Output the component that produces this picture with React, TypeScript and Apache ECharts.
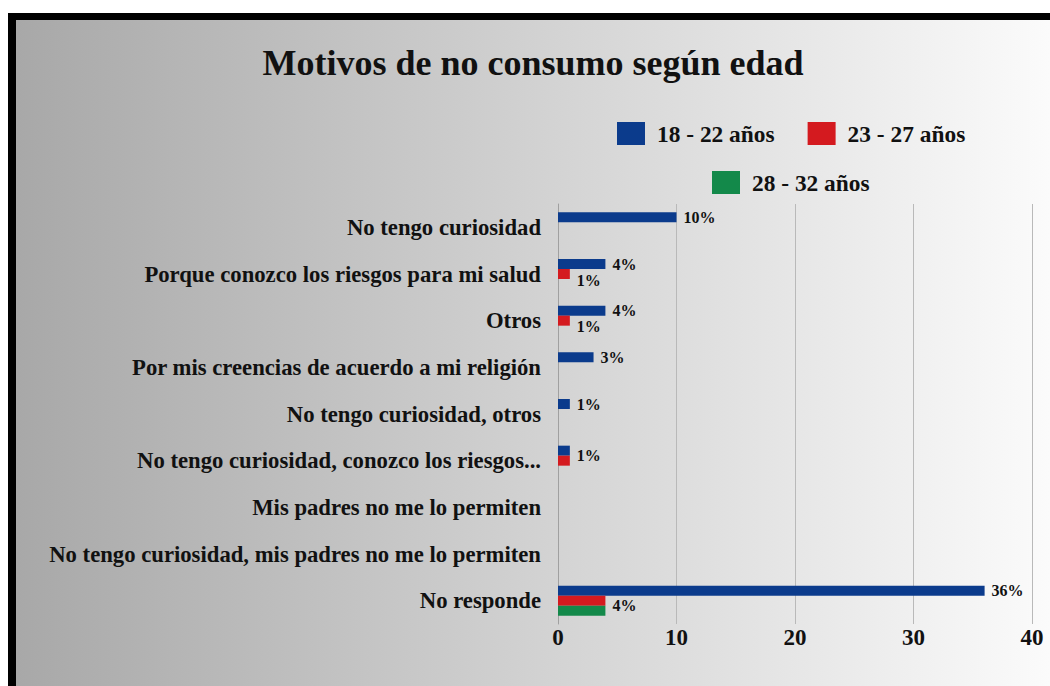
import React, { useEffect, useRef } from "react";
import * as echarts from "echarts";

const categories = [
  "No tengo curiosidad",
  "Porque conozco los riesgos para mi salud",
  "Otros",
  "Por mis creencias de acuerdo a mi religión",
  "No tengo curiosidad, otros",
  "No tengo curiosidad, conozco los riesgos...",
  "Mis padres no me lo permiten",
  "No tengo curiosidad, mis padres no me lo permiten",
  "No responde",
];
const values1822 = [10, 4, 4, 3, 1, 1, 0, 0, 36];
const values2327 = [0, 1, 1, 0, 0, 1, 0, 0, 4];
const values2832 = [0, 0, 0, 0, 0, 0, 0, 0, 4];
const seriesNames = ["18 - 22 años", "23 - 27 años", "28 - 32 años"];
const xTicks = [0, 10, 20, 30, 40];

const colors = ["#0b3b8c", "#d41a1f", "#13894a"];
const FONT = '"Liberation Serif", "Times New Roman", serif';

export default function App() {
  const ref = useRef<HTMLDivElement>(null);
  useEffect(() => {
    if (!ref.current) return;
    const chart = echarts.init(ref.current, undefined, { renderer: "svg" });
    const all = [values1822, values2327, values2832];
    const series = all.map((vals, i) => ({
      name: seriesNames[i],
      type: "bar",
      barWidth: 10,
      barGap: "0%",
      itemStyle: { color: colors[i] },
      data: vals.map((v, j) => {
        const prev = i > 0 ? all[i - 1][j] : -1;
        const next = i < all.length - 1 ? all[i + 1][j] : -1;
        const show = v > 0 && prev !== v;
        const dy = next === v ? 5 : i === 1 ? 6 : 0;
        return {
          value: v,
          label: {
            show,
            position: "right",
            distance: 7,
            offset: [0, dy],
            formatter: "{c}%",
            fontFamily: FONT,
            fontWeight: "bold",
            fontSize: 16,
            color: "#111",
          },
        };
      }),
    }));
    const legendText = {
      fontFamily: FONT,
      fontWeight: "bold",
      fontSize: 23.4,
      color: "#111",
      padding: [0, 0, 0, 7],
    };
    chart.setOption({
      animation: false,
      backgroundColor: {
        type: "linear",
        x: 0,
        y: 0,
        x2: 1,
        y2: 0,
        colorStops: [
          { offset: 0, color: "#a8a8a8" },
          { offset: 1, color: "#fbfbfb" },
        ],
      },
      title: {
        text: "Motivos de no consumo según edad",
        left: "center",
        top: 20,
        textStyle: { fontFamily: FONT, fontWeight: "bold", fontSize: 36, color: "#111" },
      },
      legend: [
        {
          data: [seriesNames[0], seriesNames[1]],
          left: 601,
          top: 102,
          padding: 0,
          itemWidth: 28,
          itemHeight: 23,
          itemGap: 33,
          icon: "rect",
          textStyle: legendText,
        },
        {
          data: [seriesNames[2]],
          left: 696,
          top: 151,
          padding: 0,
          itemWidth: 28,
          itemHeight: 23,
          icon: "rect",
          textStyle: legendText,
        },
      ],
      grid: { left: 542, right: 18, top: 184, height: 420 },
      xAxis: {
        type: "value",
        min: xTicks[0],
        max: xTicks[xTicks.length - 1],
        interval: 10,
        axisLine: { show: false },
        axisTick: { show: false },
        splitLine: { lineStyle: { color: "#b9b9b9", width: 1 } },
        axisLabel: {
          margin: 2,
          fontFamily: FONT,
          fontWeight: "bold",
          fontSize: 23,
          color: "#111",
        },
      },
      yAxis: {
        type: "category",
        inverse: true,
        data: categories,
        axisTick: { show: false },
        axisLine: { show: true, lineStyle: { color: "#a0a0a0", width: 1 } },
        axisLabel: {
          margin: 17,
          fontFamily: FONT,
          fontWeight: "bold",
          fontSize: 22.7,
          color: "#111",
        },
      },
      series,
    });
    return () => chart.dispose();
  }, []);
  return (
    <div
      style={{
        position: "fixed",
        left: 8,
        top: 13,
        right: 0,
        bottom: 0,
        borderLeft: "8px solid #000",
        borderTop: "7px solid #000",
        boxSizing: "border-box",
      }}
    >
      <div ref={ref} style={{ width: 1034, height: 666 }} />
    </div>
  );
}
